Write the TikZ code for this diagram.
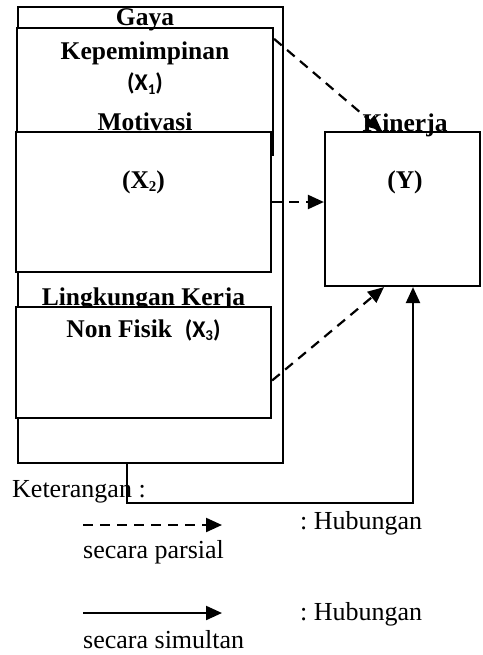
\documentclass[tikz,border=0pt]{standalone}
\usepackage{fontspec}
\setmainfont{Liberation Serif}
\newfontfamily\calibfont{Carlito}
\usetikzlibrary{arrows.meta,positioning}
\newcommand\subidx[1]{\raisebox{-0.3ex}{\fontsize{15}{15}\selectfont #1}}

\begin{document}
\frenchspacing
\begin{tikzpicture}[
  x=1pt, y=-1pt,
  font=\fontsize{26}{28}\selectfont,
  varbox/.style={draw,line width=2.2pt,fill=white,inner sep=0pt},
  outer/.style={draw,line width=1.7pt,inner sep=0pt},
  head/.style={anchor=base,inner sep=0pt,font=\fontsize{25.5}{28}\selectfont\bfseries},
  xlabel/.style={anchor=base,inner sep=0pt,font=\calibfont\fontsize{24}{26}\selectfont\bfseries},
  note/.style={anchor=base west,inner sep=0pt},
  partial/.style={-{Triangle[length=16pt,width=14pt]},line width=2.2pt,dash pattern=on 10pt off 7pt},
  simul/.style={-{Triangle[length=16pt,width=14pt]},line width=2.2pt}]

  \useasboundingbox (0,0) rectangle (482,655);

  % outer frame round the three variables
  \node[outer,minimum width=265pt,minimum height=456pt] (outer) at (150.5,235) {};

  % independent variables
  \node[varbox,minimum width=256pt,minimum height=127pt] (x1) at (145,91.5) {};
  \node[head] (gaya) at (145,26) {Gaya};
  \node[head] (kepem) at (145,60) {Kepemimpinan};
  \node[xlabel] (lx1) at (145,91) {(X\subidx{1})};
  \node[head] (motiv) at (145,131) {Motivasi};

  \node[varbox,minimum width=255pt,minimum height=140pt] (x2) at (143.5,202) {};
  \node[head] (lx2) at (143.5,188) {(X\subidx{2})};

  \node[head] (lingk) at (143.5,305) {Lingkungan Kerja};
  \node[varbox,minimum width=255pt,minimum height=111pt] (x3) at (143.5,362.5) {};
  \node[head] (lx3) at (143.5,337) {Non Fisik\ \ {\calibfont\fontsize{24}{26}\selectfont(X\subidx{3})}};

  % dependent variable
  \node[varbox,minimum width=155pt,minimum height=154pt] (y) at (402.5,209) {};
  \node[head] (kinerja) at (405,132) {Kinerja};
  \node[head] (ly) at (405,189) {(Y)};

  % partial and simultaneous relations
  \draw[partial] ([yshift=-12pt]x1.north east) -- ([xshift=58pt]y.north west);
  \draw[partial] (x2.east) -- (x2.east -| y.west);
  \draw[partial] ([yshift=-18pt]x3.east) -- ([xshift=-18.5pt]y.south);
  \draw[simul] ([xshift=-23.5pt]outer.south) -- ++(0,39) -| ([xshift=10.5pt]y.south);

  % legend
  \node[note] (ket) at (12,497) {Keterangan :};
  \coordinate (pa) at (83,525);
  \coordinate (pb) at (222,525);
  \draw[partial] (pa) -- (pb);
  \node[note] (hub1) at (300,529) {: Hubungan};
  \node[note] (pars) at (83,558) {secara parsial};
  \coordinate (sa) at (83,613);
  \coordinate (sb) at (222,613);
  \draw[simul] (sa) -- (sb);
  \node[note] (hub2) at (300,620) {: Hubungan};
  \node[note] (simu) at (83,648) {secara simultan};

\end{tikzpicture}
\end{document}
